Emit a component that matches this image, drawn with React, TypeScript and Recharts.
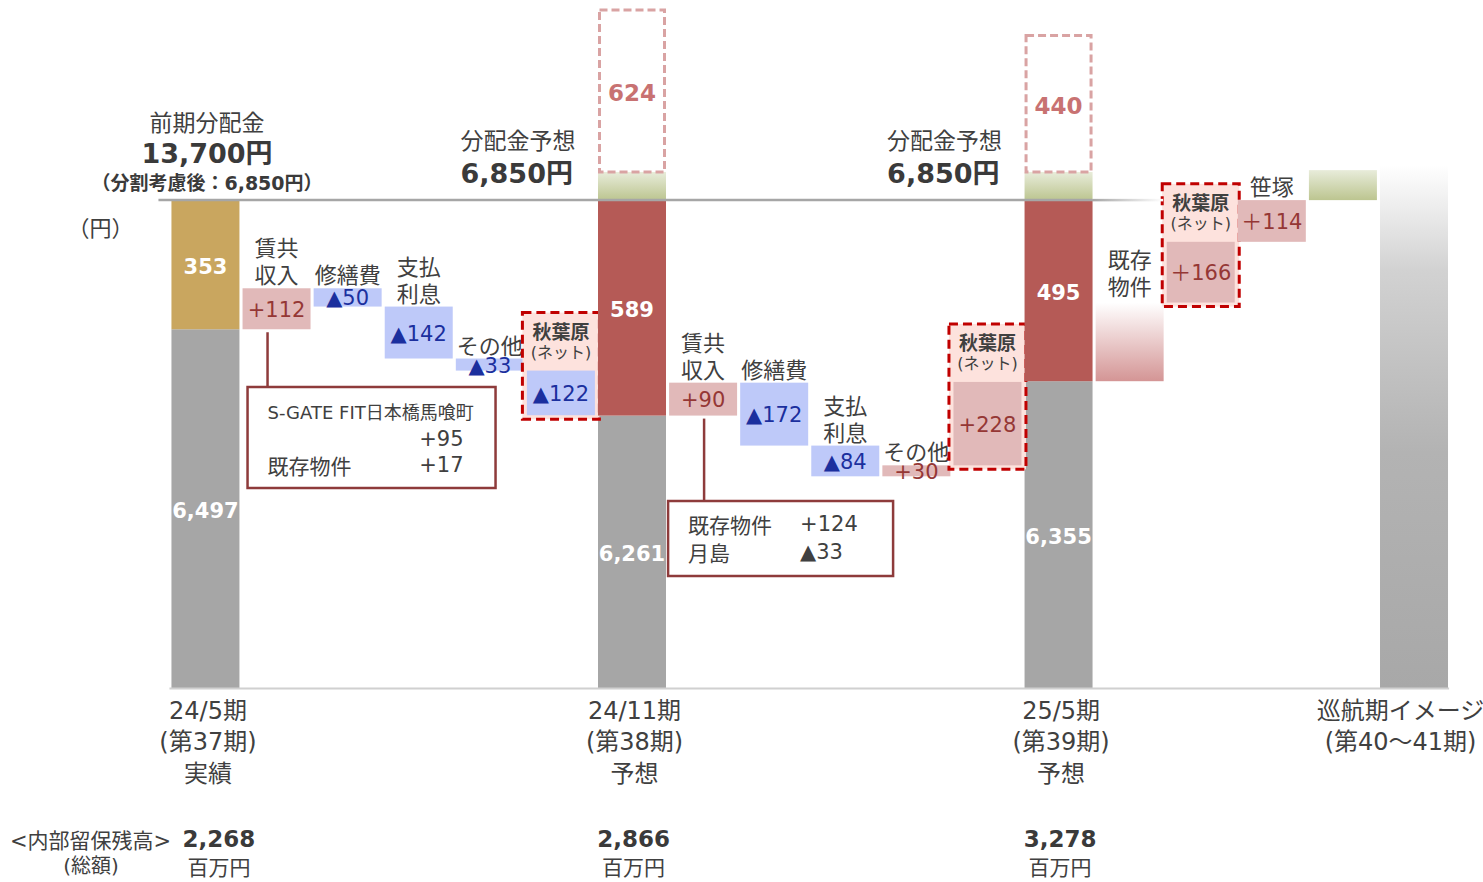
import React from 'react';
import { ComposedChart, Bar, XAxis, YAxis, ReferenceLine } from 'recharts';

const W = 1483;
const H = 882;
const FONT = '"DejaVu Sans", "Noto Sans CJK JP", sans-serif';
const CJK = '"Noto Sans CJK JP", "DejaVu Sans", sans-serif';
const TEXT = '#404040';

// broken value axis (yen): the visible part starts here
const AXIS_MIN = 5515;
const AXIS_MAX = 7397;

// ---- data ----
const periodLabels = [
  ['24/5期', '(第37期)', '実績'],
  ['24/11期', '(第38期)', '予想'],
  ['25/5期', '(第39期)', '予想'],
  ['巡航期イメージ', '(第40～41期)'],
];
const periodBase = [6497, 6261, 6355];
const periodTop = [353, 589, 495];
const distributionPerUnit = 6850;
const retainedTitle = ['<内部留保残高>', '(総額)'];
const retainedEarnings = ['2,268', '2,866', '3,278'];
const retainedUnit = '百万円';
const headerTitles = ['前期分配金', '分配金予想', '分配金予想'];
const headerValues = ['13,700円', '6,850円', '6,850円'];
const headerNote = '（分割考慮後：6,850円）';
const unitLabel = '（円）';

const bridge1Names = [['賃共', '収入'], ['修繕費'], ['支払', '利息'], ['その他'], ['秋葉原']];
const bridge1Deltas = [112, -50, -142, -33, -122];
const bridge2Names = [['賃共', '収入'], ['修繕費'], ['支払', '利息'], ['その他'], ['秋葉原']];
const bridge2Deltas = [90, -172, -84, 30, 228];
const bridge3Names = [['既存', '物件'], ['秋葉原'], ['笹塚']];
const bridge3Deltas = [215, 166, 114];
const bridge3Labels = ['', '＋166', '＋114'];
const surplusCaps = [77, 77, 82];
const reserveLabels = ['624', '440'];
const reserveHeights = [447, 377];
const cruiseLevel = 6946;
const akibaSub = '(ネット)';
const callout1 = [['S-GATE FIT日本橋馬喰町', ''], ['', '+95'], ['既存物件', '+17']];
const callout2 = [['既存物件', '+124'], ['月島', '▲33']];

// ---- table for recharts ----
type Row = {
  key: string; base: number; gray: number; main: number; cap: number; reserve: number;
  kind: string; label: string; grayLabel: string; names: string[]; period: number;
  reserveLabel: string; callout: number;
};
const blank = (key: string): Row => ({
  key, base: 0, gray: 0, main: 0, cap: 0, reserve: 0, kind: '', label: '', grayLabel: '',
  names: [], period: -1, reserveLabel: '', callout: -1,
});
const fmt = (n: number) => n.toLocaleString('en-US');
const deltaLabel = (d: number) => (d >= 0 ? `+${d}` : `▲${-d}`);

const rows: Row[] = [];
function pushPeriod(i: number) {
  rows.push({
    ...blank(`p${i}`),
    gray: periodBase[i] - AXIS_MIN,
    main: periodTop[i],
    kind: i === 0 ? 'gold' : 'red',
    label: String(periodTop[i]),
    grayLabel: fmt(periodBase[i]),
    period: i,
    cap: i > 0 ? surplusCaps[i - 1] : 0,
    reserve: i > 0 ? reserveHeights[i - 1] : 0,
    reserveLabel: i > 0 ? reserveLabels[i - 1] : '',
  });
}
function pushBridge(prefix: string, start: number, names: string[][], deltas: number[], labels: string[] | null, calloutIdx: number) {
  let level = start;
  deltas.forEach((d, j) => {
    const lo = Math.min(level, level + d);
    const akiba = names[j][0] === '秋葉原';
    const lab = labels ? labels[j] : deltaLabel(d);
    let kind = d >= 0 ? 'up' : 'down';
    if (akiba) kind = d >= 0 ? 'akibaUp' : 'akibaDown';
    if (!lab) kind = 'existing';
    rows.push({
      ...blank(`${prefix}${j}`),
      base: lo - AXIS_MIN,
      main: Math.abs(d),
      kind,
      label: lab,
      names: akiba ? [] : names[j],
      callout: j === 0 ? calloutIdx : -1,
    });
    level += d;
  });
}
pushPeriod(0);
pushBridge('a', periodBase[0], bridge1Names, bridge1Deltas, null, 0);
pushPeriod(1);
pushBridge('b', periodBase[1], bridge2Names, bridge2Deltas, null, 1);
pushPeriod(2);
pushBridge('c', periodBase[2], bridge3Names, bridge3Deltas, bridge3Labels, -1);
rows.push({ ...blank('g'), base: distributionPerUnit - AXIS_MIN, main: surplusCaps[2], kind: 'green' });
rows.push({ ...blank('p3'), gray: cruiseLevel - AXIS_MIN, kind: 'cruise', period: 3 });

// ---- colours ----
const C = {
  gray: '#a6a6a6', gold: '#c9a65f', red: '#b55a56', pink: '#e1b9b9', blue: '#bec9f9',
  pinkText: '#953735', blueText: '#1b2f9e', akibaFill: '#fde2dd', akibaStroke: '#c00000',
  reserveStroke: '#d9a3a3', reserveText: '#c87272', callout: '#8e3b3b',
};

// ---- shapes ----
const GrayShape = (p: any) => {
  const { x, y, width, height, payload } = p;
  if (!height || height <= 0) return <g />;
  if (payload.kind === 'cruise') return <rect x={x} y={y} width={width} height={height} fill="url(#gCruise)" />;
  return (
    <g>
      <rect x={x} y={y} width={width} height={height} fill={C.gray} />
      <text x={x + width / 2} y={y + height / 2 + 2} textAnchor="middle" dominantBaseline="central"
        fontFamily={FONT} fontWeight={700} fontSize={21} fill="#fff">{payload.grayLabel}</text>
    </g>
  );
};

const Callout = ({ idx, x, bottom }: { idx: number; x: number; bottom: number }) => {
  if (idx === 0) {
    const bx = x + 5, by = 387, bw = 248, bh = 101;
    return (
      <g>
        <line x1={x + 25} x2={x + 25} y1={bottom + 3} y2={by} stroke={C.callout} strokeWidth={2.5} />
        <rect x={bx} y={by} width={bw} height={bh} fill="#fff" stroke={C.callout} strokeWidth={2.5} />
        <text x={bx + 20} y={by + 25} dominantBaseline="central" fontFamily={FONT} fontSize={18} fill={TEXT}>{callout1[0][0]}</text>
        <text x={bx + 216} y={by + 52} textAnchor="end" dominantBaseline="central" fontFamily={FONT} fontSize={21} fill={TEXT}>{callout1[1][1]}</text>
        <text x={bx + 20} y={by + 78} dominantBaseline="central" fontFamily={CJK} fontSize={21} fill={TEXT}>{callout1[2][0]}</text>
        <text x={bx + 216} y={by + 78} textAnchor="end" dominantBaseline="central" fontFamily={FONT} fontSize={21} fill={TEXT}>{callout1[2][1]}</text>
      </g>
    );
  }
  const bx = x - 1, by = 501, bw = 225, bh = 75;
  return (
    <g>
      <line x1={x + 35} x2={x + 35} y1={bottom + 3} y2={by} stroke={C.callout} strokeWidth={2.5} />
      <rect x={bx} y={by} width={bw} height={bh} fill="#fff" stroke={C.callout} strokeWidth={2.5} />
      {callout2.map((ln, k) => (
        <g key={k}>
          <text x={bx + 20} y={by + 23 + k * 28} dominantBaseline="central" fontFamily={CJK} fontSize={21} fill={TEXT}>{ln[0]}</text>
          <text x={bx + 132} y={by + 23 + k * 28} dominantBaseline="central" fontFamily={FONT} fontSize={21} fill={TEXT}>{ln[1]}</text>
        </g>
      ))}
    </g>
  );
};

const MainShape = (p: any) => {
  const { x, y, width, height, payload } = p;
  if (!height || height <= 0) return <g />;
  const k = payload.kind;
  const cx = x + width / 2;
  const cy = y + height / 2;
  if (k === 'gold' || k === 'red') {
    return (
      <g>
        <rect x={x} y={y} width={width} height={height} fill={k === 'gold' ? C.gold : C.red} />
        <text x={cx} y={cy + 2} textAnchor="middle" dominantBaseline="central" fontFamily={FONT}
          fontWeight={700} fontSize={21} fill="#fff">{payload.label}</text>
      </g>
    );
  }
  if (k === 'green') return <rect x={x} y={y} width={width} height={height} fill="url(#gGreen)" />;
  const up = k === 'up' || k === 'akibaUp';
  const fill = k === 'existing' ? 'url(#gExisting)' : up ? C.pink : C.blue;
  const tc = up ? C.pinkText : C.blueText;
  const akiba = k === 'akibaUp' || k === 'akibaDown';
  const names: string[] = payload.names || [];
  const nameGap = k === 'existing' ? 18 : 15;
  return (
    <g>
      {akiba && (
        <g>
          <rect x={x - 4.5} y={y - 58} width={width + 9} height={height + 62} fill={C.akibaFill}
            stroke={C.akibaStroke} strokeWidth={3} strokeDasharray="9 5" />
          <text x={cx} y={y - 40} textAnchor="middle" dominantBaseline="central" fontFamily={CJK}
            fontWeight={700} fontSize={19} fill={TEXT}>秋葉原</text>
          <text x={cx} y={y - 18} textAnchor="middle" dominantBaseline="central" fontFamily={FONT}
            fontSize={16} fill={TEXT}>{akibaSub}</text>
        </g>
      )}
      <rect x={x} y={y} width={width} height={height} fill={fill} />
      {payload.label && (
        <text x={cx} y={cy + 1} textAnchor="middle" dominantBaseline="central" fontFamily={FONT}
          fontSize={21} fill={tc}>{payload.label}</text>
      )}
      {names.map((n, i) => (
        <text key={i} x={cx} y={y - nameGap - (names.length - 1 - i) * 27} textAnchor="middle"
          dominantBaseline="central" fontFamily={CJK} fontSize={22} fill={TEXT}>{n}</text>
      ))}
      {payload.callout >= 0 && <Callout idx={payload.callout} x={x} bottom={y + height} />}
    </g>
  );
};

const CapShape = (p: any) => {
  const { x, y, width, height } = p;
  if (!height || height <= 0) return <g />;
  return <rect x={x} y={y} width={width} height={height} fill="url(#gGreen)" />;
};

const ReserveShape = (p: any) => {
  const { x, y, width, height, payload } = p;
  if (!height || height <= 0) return <g />;
  return (
    <g>
      <rect x={x + 1.5} y={y + 1.5} width={width - 3} height={height - 1.5} fill="none"
        stroke={C.reserveStroke} strokeWidth={3} strokeDasharray="8 4" />
      <text x={x + width / 2} y={y + height / 2 + 3} textAnchor="middle" dominantBaseline="central"
        fontFamily={FONT} fontWeight={700} fontSize={23} fill={C.reserveText}>{payload.reserveLabel}</text>
    </g>
  );
};

const LineShape = (p: any) => {
  const { x1, x2, y1 } = p;
  const band = (x2 - x1) / rows.length;
  const c = (i: number) => x1 + band * (i + 0.5);
  const p2 = rows.findIndex((r) => r.key === 'p2');
  const p1 = rows.findIndex((r) => r.key === 'p1');
  const solidEnd = c(p2) + 34;
  return (
    <g>
      <line x1={x1 - 11} x2={solidEnd} y1={y1} y2={y1} stroke={C.gray} strokeWidth={2.5} />
      <rect x={solidEnd} y={y1 - 1.25} width={band} height={2.5} fill="url(#gLine)" />
      {/* headers */}
      <text x={c(0) + 2} y={y1 - 79} textAnchor="middle" dominantBaseline="central" fontFamily={CJK} fontSize={23} fill={TEXT}>{headerTitles[0]}</text>
      <text x={c(0) + 2} y={y1 - 47} textAnchor="middle" dominantBaseline="central" fontFamily={FONT} fontWeight={700} fontSize={27} fill="#3a3a3a">{headerValues[0]}</text>
      <text x={c(0) + 2} y={y1 - 17} textAnchor="middle" dominantBaseline="central" fontFamily={FONT} fontWeight={700} fontSize={19} fill="#3a3a3a">{headerNote}</text>
      {[p1, p2].map((pi, j) => (
        <g key={j}>
          <text x={c(pi) - 171} y={y1 - 61} dominantBaseline="central" fontFamily={CJK} fontSize={23} fill={TEXT}>{headerTitles[j + 1]}</text>
          <text x={c(pi) - 171} y={y1 - 27} dominantBaseline="central" fontFamily={FONT} fontWeight={700} fontSize={27} fill="#3a3a3a">{headerValues[j + 1]}</text>
        </g>
      ))}
      <text x={x1 - 69} y={y1 + 26} textAnchor="middle" dominantBaseline="central" fontFamily={CJK} fontSize={22} fill={TEXT}>{unitLabel}</text>
    </g>
  );
};

const PeriodTick = (p: any) => {
  const { x, y, payload } = p;
  const row = rows.find((r) => r.key === payload.value);
  if (!row || row.period < 0) return <g />;
  const i = row.period;
  const tx = x + (i === 3 ? -13 : 3);
  return (
    <g>
      {periodLabels[i].map((t, k) => (
        <text key={k} x={tx} y={y + 22 + k * 31.5} textAnchor="middle" dominantBaseline="central"
          fontFamily={FONT} fontSize={24} fill={TEXT}>{t}</text>
      ))}
      {i < 3 && (
        <g>
          <text x={x + (i === 0 ? 14 : 2)} y={y + 150.5} textAnchor="middle" dominantBaseline="central"
            fontFamily={FONT} fontWeight={700} fontSize={23} fill="#3a3a3a">{retainedEarnings[i]}</text>
          <text x={x + (i === 0 ? 14 : 2)} y={y + 177} textAnchor="middle" dominantBaseline="central"
            fontFamily={CJK} fontSize={21} fill={TEXT}>{retainedUnit}</text>
        </g>
      )}
      {i === 0 && (
        <g>
          <text x={x - 114.5} y={y + 152} textAnchor="middle" dominantBaseline="central" fontFamily={FONT} fontSize={21} fill={TEXT}>{retainedTitle[0]}</text>
          <text x={x - 114} y={y + 177} textAnchor="middle" dominantBaseline="central" fontFamily={FONT} fontSize={20} fill={TEXT}>{retainedTitle[1]}</text>
        </g>
      )}
    </g>
  );
};

export default function App() {
  return (
    <div style={{ position: 'absolute', left: 0, top: 0, width: W, height: H, background: '#fff' }}>
      <svg width={0} height={0} style={{ position: 'absolute' }}>
        <defs>
          <linearGradient id="gCruise" x1="0" y1="0" x2="0" y2="1">
            <stop offset="0" stopColor="#ffffff" />
            <stop offset="0.2" stopColor="#d2d2d2" />
            <stop offset="0.55" stopColor="#b3b3b3" />
            <stop offset="1" stopColor="#a8a8a8" />
          </linearGradient>
          <linearGradient id="gExisting" x1="0" y1="0" x2="0" y2="1">
            <stop offset="0" stopColor="#ffffff" />
            <stop offset="1" stopColor="#d49595" />
          </linearGradient>
          <linearGradient id="gGreen" x1="0" y1="0" x2="0" y2="1">
            <stop offset="0" stopColor="#e8ecda" />
            <stop offset="1" stopColor="#bcc590" />
          </linearGradient>
          <linearGradient id="gLine" x1="0" y1="0" x2="1" y2="0">
            <stop offset="0" stopColor="#a6a6a6" />
            <stop offset="1" stopColor="#ffffff" />
          </linearGradient>
        </defs>
      </svg>
      <ComposedChart width={W} height={H} data={rows}
        margin={{ top: 0, right: 33.9, left: 169.45, bottom: 3.5 }}>
        <XAxis dataKey="key" type="category" interval={0} tickLine={false} tickSize={0} tickMargin={0}
          height={190} axisLine={{ stroke: '#d0d0d0', strokeWidth: 2 }} tick={<PeriodTick />} />
        <YAxis type="number" hide domain={[0, AXIS_MAX - AXIS_MIN]} allowDataOverflow />
        <Bar dataKey="base" stackId="w" barSize={68} fill="transparent" isAnimationActive={false} />
        <Bar dataKey="gray" stackId="w" barSize={68} shape={GrayShape} isAnimationActive={false} />
        <Bar dataKey="main" stackId="w" barSize={68} shape={MainShape} isAnimationActive={false} />
        <Bar dataKey="cap" stackId="w" barSize={68} shape={CapShape} isAnimationActive={false} />
        <Bar dataKey="reserve" stackId="w" barSize={68} shape={ReserveShape} isAnimationActive={false} />
        <ReferenceLine y={distributionPerUnit - AXIS_MIN} shape={LineShape} />
      </ComposedChart>
    </div>
  );
}
